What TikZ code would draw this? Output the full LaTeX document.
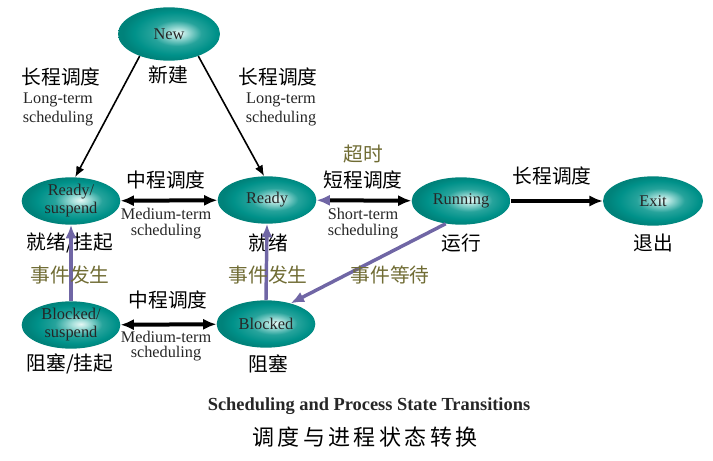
\documentclass[tikz,border=0pt]{standalone}
\usepackage{fontspec}
\setmainfont{Liberation Serif}
\newfontfamily\cjk{Noto Sans CJK SC}
\usetikzlibrary{shapes.geometric,arrows.meta}
\definecolor{evtcol}{RGB}{112,108,52}
\definecolor{purp}{RGB}{112,102,165}
\pgfdeclareradialshading{tealball}{\pgfpoint{5bp}{1bp}}{%
  rgb(0bp)=(0.90,0.97,0.96);
  rgb(4bp)=(0.66,0.88,0.86);
  rgb(12bp)=(0.15,0.64,0.61);
  rgb(20bp)=(0.0,0.57,0.54);
  rgb(25bp)=(0.0,0.51,0.48);
  rgb(50bp)=(0.0,0.51,0.48)}
\tikzset{
  tipb/.tip={Latex[length=10pt,width=8.5pt]},
  tipp/.tip={Latex[length=10pt,width=8.5pt,color=purp]},
  state/.style={ellipse, shading=tealball, minimum width=74pt, minimum height=35.5pt,
    inner sep=0pt, align=center, font=\fontsize{12.3}{13.5}\selectfont, text=black!85},
  cn/.style={font=\cjk\fontsize{14.8}{16}\selectfont, inner sep=0pt},
  cnev/.style={cn, text=evtcol},
  en/.style={font=\fontsize{12.2}{13}\selectfont, inner sep=0pt, text=black!85},
  blk/.style={line width=3pt, black},
  prp/.style={line width=2.6pt, purp, -{tipb}},
  thin/.style={line width=1.2pt, -{Latex[length=8pt,width=6.5pt]}}
}
\begin{document}
\begin{tikzpicture}[x=0.75pt,y=-0.75pt]
\useasboundingbox (0,0) rectangle (713,460);
% states
\node[state, minimum width=76.5pt, minimum height=40pt] (new) at (169,34) {New};
\node[state] (rs) at (71,201) {Ready/\\suspend};
\node[state] (ready) at (267,200) {Ready};
\node[state] (run) at (461,201) {Running};
\node[state, minimum width=75pt, minimum height=37pt] (exit) at (653,201) {Exit};
\node[state] (bs) at (71,325) {Blocked/\\suspend};
\node[state] (blocked) at (266,324) {Blocked};
% state names
\node[cn] (lnew) at (168,75) {新建};
\node[cn] (lrs) at (70,243) {就绪/挂起};
\node[cn] (lready) at (268,243) {就绪};
\node[cn] (lrun) at (461,243) {运行};
\node[cn] (lexit) at (653,243) {退出};
\node[cn] (lbs) at (70,364) {阻塞/挂起};
\node[cn] (lblk) at (268,364) {阻塞};
% connectors
\draw[thin] (new.217) -- (rs.80);
\draw[thin] (new.323) -- (ready.97);
\draw[blk, {tipb}-{tipb}] (rs) -- (ready);
\draw[blk, {tipp}-{tipb}] (ready) -- (run);
\draw[blk, -{tipb}] (run) -- (exit);
\draw[blk, {tipb}-{tipb}] (bs) -- (blocked);
\draw[prp] (run.236) -- (blocked.40);
\draw[prp] (blocked.north) -- (ready.south);
\draw[prp] (bs.north) -- (rs.south);
% labels
\node[cn] (t1) at (61,77) {长程调度};
\node[en] (t1a) at (58,100) {Long-term};
\node[en] (t1b) at (58,119) {scheduling};
\node[cn] (t2) at (278,77) {长程调度};
\node[en] (t2a) at (281,100) {Long-term};
\node[en] (t2b) at (281,119) {scheduling};
\node[cn] (t3) at (166,180) {中程调度};
\node[en] (t3a) at (166,214) {Medium-term};
\node[en] (t3b) at (166,232) {scheduling};
\node[cnev] (t4o) at (363,154) {超时};
\node[cn] (t4) at (363,180) {短程调度};
\node[en] (t4a) at (363,214) {Short-term};
\node[en] (t4b) at (363,232) {scheduling};
\node[cn] (t5) at (552,176) {长程调度};
\node[cnev] (e1) at (70,275) {事件发生};
\node[cnev] (e2) at (268,275) {事件发生};
\node[cnev] (e3) at (390,275) {事件等待};
\node[cn] (t6) at (168,300) {中程调度};
\node[en] (t6a) at (166,337) {Medium-term};
\node[en] (t6b) at (166,354) {scheduling};
% caption
\node[font=\bfseries\fontsize{13.8}{15}\selectfont, inner sep=0pt, text=black!85] (cap1) at (369,406) {Scheduling and Process State Transitions};
\node[cn, font=\cjk\fontsize{16.5}{18}\selectfont] (cap2) at (365,437) {调\kern2.6pt 度\kern2.6pt 与\kern2.6pt 进\kern2.6pt 程\kern2.6pt 状\kern2.6pt 态\kern2.6pt 转\kern2.6pt 换};
\end{tikzpicture}
\end{document}
